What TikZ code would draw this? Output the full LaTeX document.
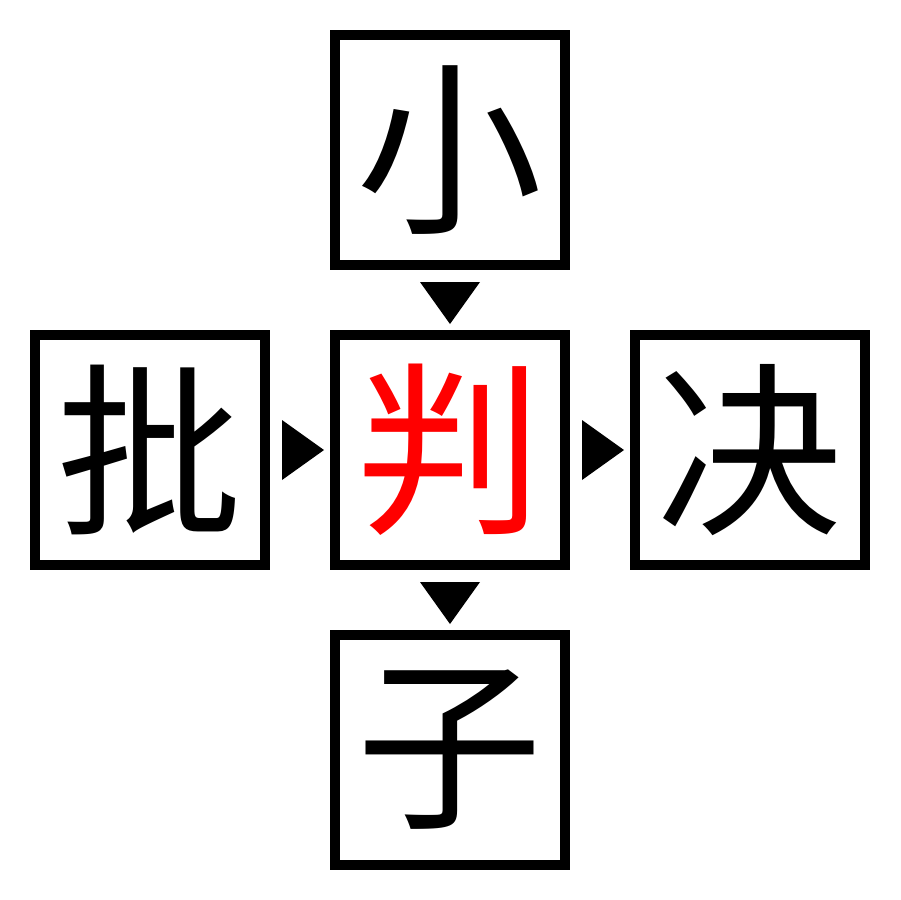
\documentclass[tikz,border=0pt]{standalone}
\usepackage{fontspec}
\newfontfamily\cjk{Noto Sans CJK SC}
\begin{document}
\begin{tikzpicture}[x=0.02cm,y=-0.02cm,
  cbox/.style={draw=black,line width=0.2cm,minimum size=4.6cm,inner sep=0pt,
    font=\cjk\fontsize{106}{106}\selectfont},
  tri/.style={fill=black,draw=none}]
\useasboundingbox (0,0) rectangle (900,900);
\node[cbox] (top) at (450,150) {小};
\node[cbox] (left) at (150,450) {批};
\node[cbox,text=red] (mid) at (450,450) {判};
\node[cbox] (right) at (750,450) {决};
\node[cbox] (bot) at (450,750) {子};
\fill[tri] (420,282) -- (480,282) -- (450,324) -- cycle;
\fill[tri] (420,582) -- (480,582) -- (450,624) -- cycle;
\fill[tri] (282,420) -- (282,480) -- (324,450) -- cycle;
\fill[tri] (582,420) -- (582,480) -- (624,450) -- cycle;
\end{tikzpicture}
\end{document}
